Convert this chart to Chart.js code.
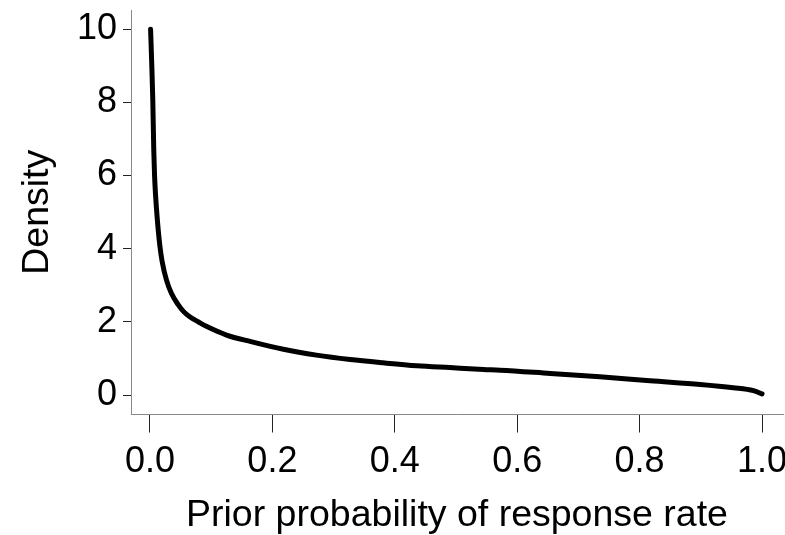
<!DOCTYPE html>
<html>
<head>
<meta charset="utf-8">
<script src="https://cdn.jsdelivr.net/npm/chart.js@4"></script>
<style>
  html, body { margin: 0; padding: 0; background: #fff; }
  #wrap { width: 785px; height: 535px; }
</style>
</head>
<body>
<div id="wrap"><canvas id="myChart" width="785" height="535"></canvas></div>
<script>
// values
const rateValues = [0.001, 0.003, 0.0046, 0.0062, 0.0075, 0.009, 0.012, 0.0163, 0.02, 0.027, 0.035, 0.046, 0.055, 0.065, 0.08, 0.093, 0.125, 0.165, 0.218, 0.272, 0.327, 0.381, 0.436, 0.49, 0.545, 0.572, 0.654, 0.735, 0.817, 0.899, 0.953, 0.986, 1.0];
const densityValues = [10.0, 9.0, 8.07, 6.7, 6.0, 5.5, 4.8, 4.06, 3.64, 3.14, 2.78, 2.47, 2.28, 2.14, 1.99, 1.87, 1.64, 1.46, 1.25, 1.09, 0.97, 0.88, 0.80, 0.75, 0.70, 0.68, 0.59, 0.50, 0.39, 0.29, 0.20, 0.12, 0.03];
const xTicks = [0, 0.2, 0.4, 0.6, 0.8, 1.0];
const yTicks = [0, 2, 4, 6, 8, 10];

const FONT = "'Liberation Sans', Arial, sans-serif";

const points = [];
for (let i = 0; i < rateValues.length; i++) {
  points.push({x: rateValues[i], y: densityValues[i]});
}

const config = {
  type: 'scatter',
  data: {
    datasets: [{
      data: points,
      showLine: true,
      borderColor: '#000',
      borderWidth: 5,
      borderCapStyle: 'round',
      borderJoinStyle: 'round',
      cubicInterpolationMode: 'monotone',
      pointRadius: 0
    }]
  },
  options: {
    responsive: false,
    animation: false,
    layout: { padding: { top: 10, right: 2, left: 0, bottom: 0 } },
    plugins: { legend: { display: false }, tooltip: { enabled: false } },
    scales: {
      x: {
        type: 'linear',
        min: -0.031,
        max: 1.0343,
        afterBuildTicks: (s) => { s.ticks = xTicks.map(v => ({value: v})); },
        afterFit: (s) => { s.height = 120.5; s.paddingLeft = 0; s.paddingRight = 0; },
        grid: { drawOnChartArea: false, drawTicks: true, tickLength: 18, color: '#222', lineWidth: 1 },
        border: { display: true, color: '#888', width: 1 },
        ticks: {
          padding: 8,
          color: '#000',
          font: { family: FONT, size: 36 },
          callback: (v) => v.toFixed(1)
        },
        title: {
          display: true,
          text: 'Prior probability of response rate',
          color: '#000',
          font: { family: FONT, size: 37.5 },
          padding: { top: 0, bottom: -3 }
        }
      },
      y: {
        type: 'linear',
        min: -0.533,
        max: 10.527,
        afterBuildTicks: (s) => { s.ticks = yTicks.map(v => ({value: v})); },
        afterFit: (s) => { s.width = 131; s.paddingTop = 0; s.paddingBottom = 0; },
        grid: { drawOnChartArea: false, drawTicks: true, tickLength: 8, color: '#222', lineWidth: 1 },
        border: { display: true, color: '#888', width: 1 },
        ticks: {
          padding: 6,
          color: '#000',
          font: { family: FONT, size: 36 },
          callback: (v) => String(v)
        },
        title: {
          display: true,
          text: 'Density',
          color: '#000',
          font: { family: FONT, size: 37.5 },
          padding: { top: 15, bottom: 0 }
        }
      }
    }
  }
};

new Chart(document.getElementById('myChart'), config);
</script>
</body>
</html>
